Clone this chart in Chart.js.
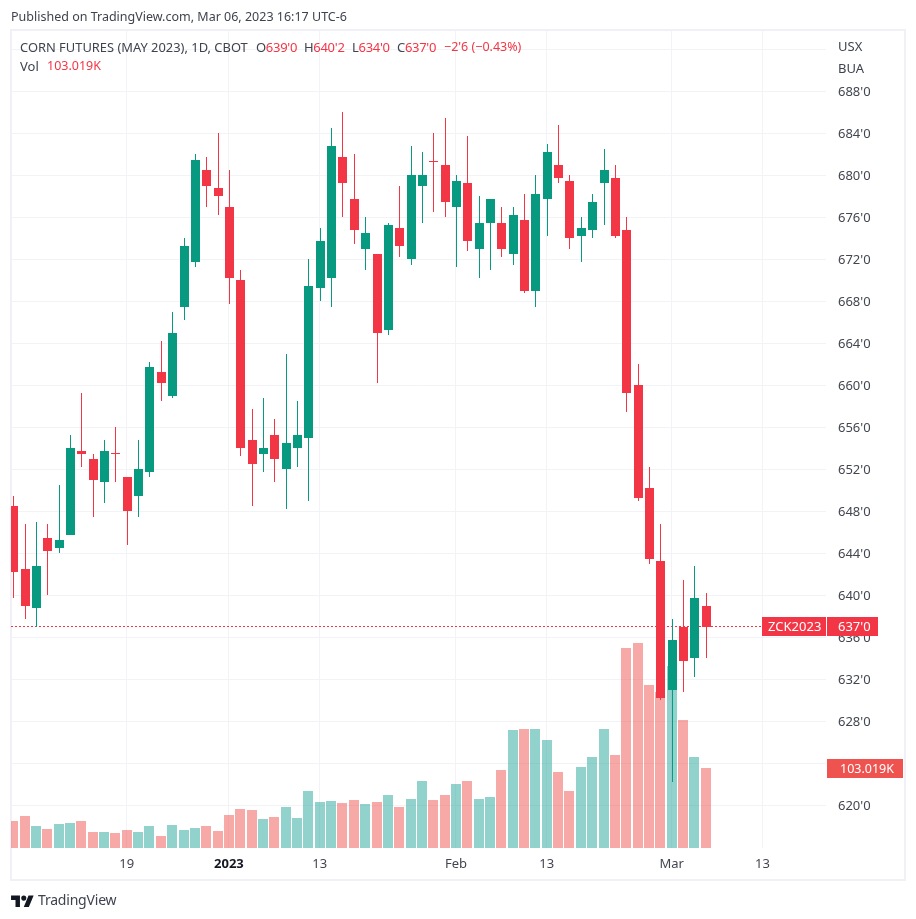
<!DOCTYPE html>
<html>
<head>
<meta charset="utf-8">
<title>Corn Futures</title>
<script src="https://cdn.jsdelivr.net/npm/chart.js@4"></script>
<style>
    html, body { margin: 0; padding: 0; background: #fff; }
    body { position: relative; width: 916px; height: 919px; overflow: hidden; font-family: "Noto Sans", sans-serif; color: #3f434e; }
    canvas { position: absolute; left: 0; top: 0; }
    .frame { position: absolute; left: 10px; top: 29px; width: 892px; height: 848px; border: 2px solid #f0f0f6; }
    .txt { position: absolute; white-space: nowrap; font-size: 13px; line-height: 18px; }
    .red { color: #f23645; }
</style>
</head>
<body>
<div class="frame"></div>
<canvas id="chart" width="916" height="919"></canvas>
<div class="txt" style="left:11px;top:8px;font-size:12.5px">Published on TradingView.com, Mar 06, 2023 16:17 UTC-6</div>
<div class="txt" style="left:20px;top:38px;font-size:12.9px">CORN FUTURES (MAY 2023), 1D, CBOT</div>
<div class="txt" style="left:256px;top:38px;letter-spacing:-0.3px">O<span class="red">639'0</span></div>
<div class="txt" style="left:304px;top:38px;letter-spacing:-0.3px">H<span class="red">640'2</span></div>
<div class="txt" style="left:352px;top:38px;letter-spacing:-0.3px">L<span class="red">634'0</span></div>
<div class="txt" style="left:397px;top:38px;letter-spacing:-0.3px">C<span class="red">637'0</span></div>
<div class="txt red" style="left:444px;top:38px;font-size:12.5px">−2'6 (−0.43%)</div>
<div class="txt" style="left:20px;top:57px">Vol</div>
<div class="txt red" style="left:47px;top:57px;font-size:12.5px">103.019K</div>
<div class="txt" style="left:838px;top:37px">USX</div>
<div class="txt" style="left:838px;top:59px">BUA</div>
<svg style="position:absolute;left:11px;top:893px" width="23" height="14" viewBox="0 0 36 22"><path fill="#131722" d="M14 22H7V11H0V4h14v18zM28 22h-8l7.5-18h8L28 22z"/><circle fill="#131722" cx="20" cy="8" r="4"/></svg>
<div class="txt" style="left:38px;top:890px;font-size:14px;line-height:20px;letter-spacing:-0.2px">TradingView</div>
<script>
// OHLC per trading day, Dec 5 2022 to Mar 6 2023
const opens = [648.5, 642.5, 638.75, 645.5, 644.5, 645.75, 653.75, 653, 650.75, 653.5, 651.25, 649.5, 651.75, 661.25, 659, 667.5, 671.75, 680.5, 678.75, 677, 670, 654.75, 653.5, 655.25, 652, 654, 655, 669.25, 670.25, 681.75, 677.75, 673, 672.5, 665.25, 675, 672, 679, 681.25, 681, 677, 679.25, 673, 675.5, 675.5, 672.5, 675.75, 669, 677.75, 681, 679.5, 674.25, 674.75, 679.25, 679.75, 674.75, 660, 650.25, 643.25, 631, 637, 634, 639];
const highs = [649.5, 646.75, 647, 646.75, 650.5, 655.25, 659.25, 653.5, 654.75, 656, 651.25, 654.75, 662.25, 664.25, 667, 674, 682, 681.75, 684, 680.5, 671, 657.75, 658.75, 656.75, 663, 658.5, 672, 675, 684.5, 686, 682, 676, 672.5, 675.5, 679, 682.75, 682.25, 684, 685.5, 680, 683.75, 678, 677.75, 677, 677, 678.25, 680, 683, 684.75, 680, 676, 678.25, 682.5, 681, 676, 662, 652.25, 646.75, 637.75, 641.5, 642.75, 640.25];
const lows = [639.75, 637.75, 637, 640, 644, 645.75, 652.25, 647.5, 648.75, 650.75, 644.75, 647.5, 651.25, 658.5, 658.75, 666.25, 671.25, 677, 676.25, 667.75, 653.25, 648.5, 651.75, 650.75, 648.25, 652.25, 649, 668, 667.5, 676, 673.5, 671, 660.25, 664.75, 672.25, 671.5, 675.5, 676.5, 676, 671.25, 672.75, 670.25, 671, 672.25, 671.5, 668.75, 667.5, 674.25, 679.25, 673, 671.75, 674, 675.25, 674, 657.5, 649, 643, 630, 622.25, 630.75, 632.25, 634];
const closes = [642.25, 639, 642.75, 644.25, 645.25, 654, 653.5, 651, 653.75, 653.5, 648, 652, 661.75, 660.25, 665, 673.25, 681.5, 679, 678, 670.25, 654, 652.5, 654, 653, 654.5, 655.25, 669.5, 673.75, 682.75, 679.25, 674.75, 674.5, 665, 675.25, 673.25, 680, 680, 681.25, 677.5, 679.5, 673.75, 675.5, 677.75, 673, 676.25, 669, 678.25, 682.25, 679.75, 674, 675, 677.5, 680.5, 674.25, 659.25, 649.25, 643.5, 630.25, 635.75, 633.75, 639.75, 637];
// volume in thousands of contracts
const volumes = [34.5, 41, 28, 24.2, 30.6, 31.9, 34.5, 20.3, 20.3, 19, 22.9, 20.3, 28, 15.1, 29.3, 22.9, 25.5, 28, 21.6, 42.3, 50, 48.7, 37.1, 39.7, 52.6, 38.4, 73.3, 59.1, 60.4, 57.8, 61.7, 56.5, 59.1, 68.1, 52.6, 63, 86.2, 61.7, 68.1, 82.3, 86.2, 63, 65.5, 100.4, 152.1, 153.4, 153.4, 139.2, 97.9, 73.3, 104.3, 117.2, 153.4, 119.8, 258.5, 265, 210.7, 201.6, 235.2, 165, 117.2, 103.019];

const dayTicks = [10, 19, 27, 39, 47, 58, 66];
const dayLabels = ['19', '2023', '13', 'Feb', '13', 'Mar', '13'];
const priceTicks = [692, 688, 684, 680, 676, 672, 668, 664, 660, 656, 652, 648, 644, 640, 636, 632, 628, 624, 620];
const lastPrice = 637;
const lastPriceText = "637'0";
const lastVolumeText = '103.019K';
const symbolText = 'ZCK2023';

const UP = '#089981';
const DOWN = '#f23645';
const UP_VOL = 'rgba(38,166,154,0.5)';
const DOWN_VOL = 'rgba(239,83,80,0.5)';
const GRID = '#f2f3f6';
const AXIS_FONT = '"Noto Sans", sans-serif';

const isUp = i => closes[i] > opens[i];
const candleColors = closes.map((c, i) => isUp(i) ? UP : DOWN);
const volumeColors = closes.map((c, i) => isUp(i) ? UP_VOL : DOWN_VOL);

// Bars land on fractional pixels, snap them so wicks stay one pixel wide
const snapBars = {
    id: 'snapBars',
    afterDatasetsUpdate(chart) {
        chart.data.datasets.forEach((ds, d) => {
            chart.getDatasetMeta(d).data.forEach(el => {
                el.x = ds.barThickness % 2 ? Math.round(el.x) + 0.5 : Math.round(el.x);
                el.y = Math.round(el.y);
                el.base = Math.round(el.base);
            });
        });
    }
};

// Dotted last price line, sits under the candles
const priceLine = {
    id: 'priceLine',
    beforeDatasetsDraw(chart) {
        const { ctx, chartArea, scales } = chart;
        const y = Math.round(scales.y.getPixelForValue(lastPrice)) - 0.5;
        ctx.save();
        ctx.strokeStyle = DOWN;
        ctx.lineWidth = 1;
        ctx.setLineDash([2, 2]);
        ctx.beginPath();
        ctx.moveTo(chartArea.left, y);
        ctx.lineTo(chartArea.right, y);
        ctx.stroke();
        ctx.restore();
    }
};

function tag(ctx, x, y, w, h, fill, text, textX, font) {
    ctx.fillStyle = fill;
    ctx.fillRect(x, y, w, h);
    ctx.fillStyle = '#fff';
    ctx.font = font;
    ctx.textAlign = 'left';
    ctx.textBaseline = 'middle';
    ctx.fillText(text, textX, y + h / 2 + 0.5);
}

// Tags on the price axis for the last bar
const axisTags = {
    id: 'axisTags',
    afterDraw(chart) {
        const { ctx, chartArea, scales } = chart;
        const r = chartArea.right;
        const py = Math.round(scales.y.getPixelForValue(lastPrice));
        const vy = Math.round(scales.vol.getPixelForValue(volumes[volumes.length - 1]));
        ctx.save();
        tag(ctx, r - 64, py - 10, 64, 19, DOWN, symbolText, r - 58, '13px ' + AXIS_FONT);
        tag(ctx, r + 1, py - 10, 51, 19, DOWN, lastPriceText, r + 12, '13px ' + AXIS_FONT);
        tag(ctx, r + 1, vy - 9, 76, 19, '#ef5350', lastVolumeText, r + 14, '12.5px ' + AXIS_FONT);
        ctx.restore();
    }
};

new Chart(document.getElementById('chart'), {
    type: 'bar',
    data: {
        datasets: [
            {
                label: 'Body',
                data: closes.map((c, i) => ({ x: i, y: [opens[i], c] })),
                yAxisID: 'y',
                backgroundColor: candleColors,
                barThickness: 9,
                minBarLength: 1,
                grouped: false,
                inflateAmount: 0,
                order: 1
            },
            {
                label: 'Wick',
                data: highs.map((h, i) => ({ x: i, y: [lows[i], h] })),
                yAxisID: 'y',
                backgroundColor: candleColors,
                barThickness: 1,
                grouped: false,
                inflateAmount: 0,
                order: 2
            },
            {
                label: 'Vol',
                data: volumes.map((v, i) => ({ x: i, y: v })),
                yAxisID: 'vol',
                backgroundColor: volumeColors,
                barThickness: 10,
                grouped: false,
                inflateAmount: 0,
                order: 3
            }
        ]
    },
    options: {
        responsive: false,
        animation: false,
        devicePixelRatio: 1,
        layout: { padding: { left: 11, top: 30, right: 11, bottom: 39 } },
        plugins: { legend: { display: false }, tooltip: { enabled: false } },
        scales: {
            x: {
                type: 'linear',
                bounds: 'data',
                offset: false,
                min: -0.2,
                max: 71.6,
                afterBuildTicks: axis => { axis.ticks = dayTicks.map(v => ({ value: v })); },
                afterFit: axis => { axis.height = 32; },
                grid: { color: GRID, drawTicks: false, offset: false },
                border: { display: false },
                ticks: {
                    padding: 8,
                    autoSkip: false,
                    maxRotation: 0,
                    color: ctx => dayLabels[ctx.index] === '2023' ? '#131722' : '#42464f',
                    font: ctx => ({ family: AXIS_FONT, size: 13, weight: dayLabels[ctx.index] === '2023' ? 'bold' : 'normal' }),
                    callback: (v, i) => dayLabels[i]
                }
            },
            y: {
                position: 'right',
                bounds: 'data',
                min: 615.93,
                max: 693.84,
                afterBuildTicks: axis => { axis.ticks = priceTicks.map(v => ({ value: v })); },
                afterFit: axis => { axis.width = 79; },
                grid: { color: GRID, drawTicks: false },
                border: { display: false },
                ticks: {
                    padding: 12,
                    labelOffset: 1,
                    crossAlign: 'near',
                    color: '#42464f',
                    font: { family: AXIS_FONT, size: 13 },
                    callback: v => v === 692 ? '' : v + "'0"
                }
            },
            vol: {
                display: false,
                min: 0,
                max: 1057,
                bounds: 'data'
            }
        }
    },
    plugins: [snapBars, priceLine, axisTags]
});
</script>
</body>
</html>
